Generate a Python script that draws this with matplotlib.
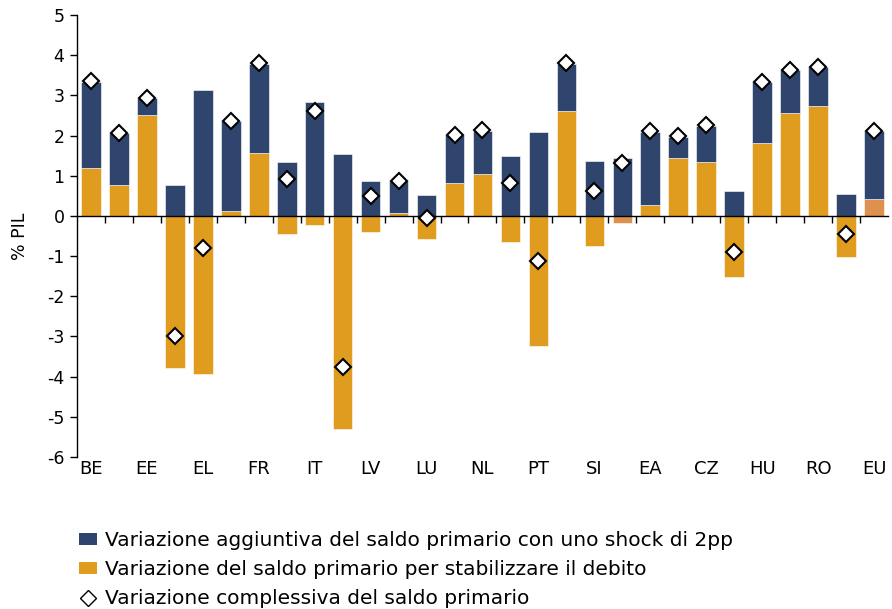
import matplotlib
matplotlib.use("Agg")
import matplotlib.pyplot as plt
import matplotlib.transforms as mtransforms
from matplotlib.lines import Line2D
from matplotlib.patches import Patch
import numpy as np

countries = ["BE", "DE", "EE", "IE", "EL", "ES", "FR", "HR", "IT", "CY",
             "LV", "LT", "LU", "MT", "NL", "AT", "PT", "SK", "SI", "FI",
             "EA", "BG", "CZ", "DK", "HU", "PL", "RO", "SE", "EU"]
stabilise = [1.19, 0.77, 2.50, -3.78, -3.94, 0.12, 1.56, -0.44, -0.22, -5.31,
             -0.39, 0.07, -0.57, 0.81, 1.05, -0.66, -3.23, 2.62, -0.76, -0.18,
             0.27, 1.45, 1.34, -1.51, 1.82, 2.55, 2.74, -1.03, 0.41]
shock = [2.15, 1.29, 0.44, 0.76, 3.13, 2.24, 2.22, 1.34, 2.84, 1.53,
         0.86, 0.79, 0.51, 1.20, 1.07, 1.48, 2.09, 1.16, 1.37, 1.45,
         1.83, 0.52, 0.90, 0.61, 1.52, 1.08, 0.97, 0.54, 1.70]
total = [3.36, 2.06, 2.94, -3.00, -0.80, 2.35, 3.80, 0.91, 2.62, -3.77,
         0.50, 0.88, -0.06, 2.02, 2.13, 0.83, -1.13, 3.80, 0.62, 1.31,
         2.11, 1.98, 2.25, -0.89, 3.34, 3.63, 3.71, -0.46, 2.11]
lighter_countries = ["FI", "EU"]

labels = ["Variazione aggiuntiva del saldo primario con uno shock di 2pp",
          "Variazione del saldo primario per stabilizzare il debito",
          "Variazione complessiva del saldo primario"]

BLUE = "#2f456e"
ORANGE = "#e09c1f"
SALMON = "#de914f"

plt.rcParams["font.family"] = ["DejaVu Sans"]
plt.rcParams["axes.unicode_minus"] = False

fig = plt.figure(figsize=(8.92, 6.09), dpi=100)
ax = fig.add_axes([0.0863, 0.2496, 0.9092, 0.7258])

x = np.arange(len(countries))
stab = np.array(stabilise)
base = np.where(stab > 0, stab, 0)
orange_colors = [SALMON if c in lighter_countries else ORANGE for c in countries]

ax.bar(x, stab, width=0.7, color=orange_colors, edgecolor="white", linewidth=0.4, zorder=2)
ax.bar(x, shock, bottom=base, width=0.7, color=BLUE, edgecolor="white", linewidth=0.4, zorder=2)
ax.plot(x, total, linestyle="none", marker="D", markersize=8.2, markerfacecolor="white",
        markeredgecolor="black", markeredgewidth=1.5, zorder=4)

ax.set_xlim(-0.5, len(countries) - 0.5)
ax.set_ylim(-6, 5)
ax.set_yticks(range(-6, 6))
ax.tick_params(axis="y", direction="out", length=5, width=1, labelsize=12.5, pad=4)
ax.set_ylabel("% PIL", fontsize=12.5, labelpad=13)

for side in ["top", "right"]:
    ax.spines[side].set_visible(False)
ax.spines["bottom"].set_position(("data", 0))
ax.spines["left"].set_linewidth(1)
ax.spines["bottom"].set_linewidth(1)
ax.set_xticks(np.arange(0.5, len(countries) - 0.5, 1))
ax.set_xticklabels([])
ax.tick_params(axis="x", direction="out", length=5, width=1)

trans = mtransforms.blended_transform_factory(ax.transData, ax.transAxes)
for i, name in enumerate(countries):
    if i % 2 == 0:
        ax.text(i, -0.006, name, transform=trans, ha="center", va="top", fontsize=13)

handles = [Patch(facecolor=BLUE, edgecolor="none"),
           Patch(facecolor=ORANGE, edgecolor="none"),
           Line2D([], [], linestyle="none", marker="D", markersize=8,
                  markerfacecolor="white", markeredgecolor="black", markeredgewidth=1)]
fig.legend(handles, labels, loc="upper left", bbox_to_anchor=(0.089, 0.128),
           frameon=False, fontsize=14.5, handlelength=0.85, handleheight=0.55,
           handletextpad=0.4, labelspacing=0.5, borderpad=0, borderaxespad=0)

fig.savefig("out.png", dpi=100)
